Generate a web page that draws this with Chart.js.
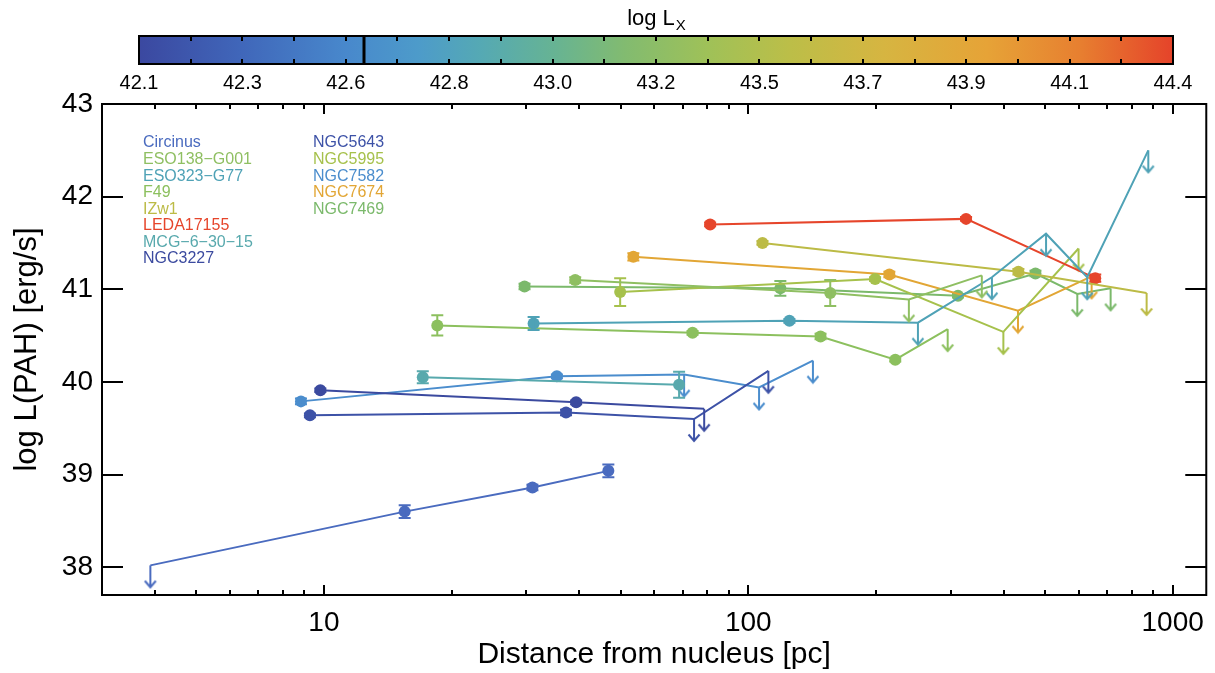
<!DOCTYPE html>
<html><head><meta charset="utf-8">
<script src="https://cdn.jsdelivr.net/npm/chart.js@4.4.1/dist/chart.umd.min.js"></script>
<style>
html,body{margin:0;padding:0;background:#fff;}
#wrap{position:relative;width:1215px;height:673px;overflow:hidden;}
#main{position:absolute;left:0;top:0;}
#cbar{position:absolute;left:0;top:0;}
</style></head><body>
<div id="wrap">
<canvas id="main" width="1215" height="673"></canvas>
<canvas id="cbar" width="1215" height="100"></canvas>
</div>
<script>
// ---------------- data ----------------
const galaxies = ['Circinus','ESO138\u2212G001','ESO323\u2212G77','F49','IZw1','LEDA17155','MCG\u22126\u221230\u221215','NGC3227',
                  'NGC5643','NGC5995','NGC7582','NGC7674','NGC7469'];
const distPc = [
  [3.9, 15.5, 31.0, 46.8],
  [39.1, 156, 239, 355],
  [31.2, 125, 251, 375, 503, 629, 876],
  [18.5, 73.9, 148, 222, 295],
  [108, 433, 868],
  [81.3, 326, 657],
  [17.1, 68.7],
  [9.81, 39.3, 78.7],
  [9.27, 37.2, 74.5, 111.5],
  [49.9, 199, 399, 600],
  [8.83, 35.4, 70.6, 106, 142],
  [53.6, 215, 432, 644],
  [29.7, 119, 312, 475, 596, 714]
];
const logLpah = [
  [38.02, 38.60, 38.86, 39.04],
  [41.10, 40.96, 40.89, 41.15],
  [40.63, 40.66, 40.64, 41.13, 41.60, 41.13, 42.50],
  [40.61, 40.53, 40.49, 40.24, 40.57],
  [41.50, 41.19, 40.96],
  [41.70, 41.76, 41.12],
  [40.05, 39.97],
  [39.91, 39.78, 39.71],
  [39.64, 39.67, 39.60, 40.12],
  [40.97, 41.11, 40.54, 41.44],
  [39.79, 40.06, 40.08, 39.94, 40.23],
  [41.35, 41.16, 40.77, 41.14],
  [41.03, 41.01, 40.93, 41.17, 40.95, 41.01]
];
const errLpah = [
  [0, 0.07, 0.03, 0.07],
  [0.03, 0.14, 0, 0],
  [0.07, 0.02, 0, 0, 0, 0, 0],
  [0.11, 0.02, 0.03, 0.02, 0],
  [0.02, 0.03, 0],
  [0.02, 0.02, 0.04],
  [0.065, 0.14],
  [0.02, 0.02, 0],
  [0.02, 0.03, 0, 0],
  [0.15, 0.02, 0, 0],
  [0.03, 0.02, 0, 0, 0],
  [0.04, 0.03, 0, 0],
  [0.03, 0.08, 0.02, 0.03, 0, 0]
];
const upperLimit = [
  [1,0,0,0],
  [0,0,1,1],
  [0,0,1,1,1,1,1],
  [0,0,0,0,1],
  [0,0,1],
  [0,0,0],
  [0,0],
  [0,0,1],
  [0,0,1,1],
  [0,0,1,1],
  [0,0,1,1,1],
  [0,0,1,1],
  [0,0,0,0,1,1]
];
const xTickLabels = [10, 100, 1000];
const yTickValues = [38, 39, 40, 41, 42, 43];
const cbTickLabels = ['42.1','42.3','42.6','42.8','43.0','43.2','43.5','43.7','43.9','44.1','44.4'];
const cbMin = 42.1, cbMax = 44.4, cbMarker = 42.6;

// ---------------- styles ----------------
const colors = ['#4a6bbf','#8fbf62','#4fa2b6','#8cc05e','#bcbb46','#e6452b','#58a9ad','#3b4a9f',
                '#3d52a7','#a6c14c','#4b8dcd','#e2a635','#7bb96b'];
const FONT = "'Liberation Sans', Arial, Helvetica, sans-serif";
const cbStops = [[0,'#3b48a0'],[0.1,'#4067ba'],[0.2,'#4888cc'],[0.27,'#4d9bca'],[0.33,'#55a9b4'],[0.4,'#66b394'],
                 [0.47,'#82bb70'],[0.55,'#9fc158'],[0.63,'#bcbe48'],[0.72,'#d6b541'],[0.82,'#e6a337'],[0.91,'#e77f30'],[1,'#e5432a']];

function makeArrow(color){
  const L = 22, c = document.createElement('canvas');
  c.width = 16; c.height = 2*L + 4;
  const g = c.getContext('2d');
  const cx = 8, cy = c.height/2;
  g.strokeStyle = color; g.lineWidth = 2;
  g.beginPath(); g.moveTo(cx, cy); g.lineTo(cx, cy+L); g.stroke();
  g.beginPath(); g.moveTo(cx-5.5, cy+L-6.5); g.lineTo(cx, cy+L); g.lineTo(cx+5.5, cy+L-6.5); g.stroke();
  return c;
}
const arrows = colors.map(makeArrow);

const datasets = galaxies.map((name, g) => ({
  label: name,
  data: distPc[g].map((d, i) => ({x: d, y: logLpah[g][i]})),
  borderColor: colors[g], backgroundColor: colors[g],
  borderWidth: 2, showLine: true, tension: 0,
  pointStyle: ctx => upperLimit[g][ctx.dataIndex] ? arrows[g] : 'circle',
  pointRadius: 6, pointHoverRadius: 6, pointBorderWidth: 0,
  errors: errLpah[g]
}));

const errorBarPlugin = {
  id: 'errbars',
  afterDatasetDraw(chart, args){
    const ds = chart.data.datasets[args.index];
    const y = chart.scales.y, ctx = chart.ctx;
    ctx.save(); ctx.strokeStyle = ds.borderColor; ctx.lineWidth = 2;
    args.meta.data.forEach((pt, i) => {
      const e = ds.errors[i];
      if (!e) return;
      const v = ds.data[i].y;
      const t = y.getPixelForValue(v + e), b = y.getPixelForValue(v - e), px = pt.x;
      ctx.beginPath();
      ctx.moveTo(px, t); ctx.lineTo(px, b);
      ctx.moveTo(px-6, t); ctx.lineTo(px+6, t);
      ctx.moveTo(px-6, b); ctx.lineTo(px+6, b);
      ctx.stroke();
    });
    ctx.restore();
  }
};

const framePlugin = {
  id: 'frame',
  afterDraw(chart){
    const {ctx, chartArea: a, scales: {x, y}} = chart;
    ctx.save(); ctx.strokeStyle = '#000'; ctx.lineWidth = 2;
    ctx.strokeRect(a.left, a.top, a.right - a.left, a.bottom - a.top);
    ctx.beginPath();
    const minor = [];
    [1, 10, 100, 1000].forEach(dec => { for (let m = 2; m <= 9; m++) { const v = m*dec; if (v > x.min && v < x.max) minor.push(v); } });
    minor.forEach(v => { const px = Math.round(x.getPixelForValue(v)); ctx.moveTo(px, a.bottom); ctx.lineTo(px, a.bottom-5); ctx.moveTo(px, a.top); ctx.lineTo(px, a.top+5); });
    xTickLabels.forEach(v => { const px = Math.round(x.getPixelForValue(v)); ctx.moveTo(px, a.bottom); ctx.lineTo(px, a.bottom-10); ctx.moveTo(px, a.top); ctx.lineTo(px, a.top+10); });
    yTickValues.forEach(v => { const py = Math.round(y.getPixelForValue(v)); ctx.moveTo(a.left, py); ctx.lineTo(a.left+21, py); ctx.moveTo(a.right, py); ctx.lineTo(a.right-21, py); });
    ctx.stroke();
    // legend
    ctx.font = '16px ' + FONT; ctx.textBaseline = 'middle'; ctx.textAlign = 'left';
    galaxies.forEach((name, g) => {
      const col = g < 8 ? 0 : 1, row = g < 8 ? g : g - 8;
      ctx.fillStyle = colors[g];
      ctx.fillText(name, col ? 313 : 143, 143 + row*16.55);
    });
    ctx.restore();
  }
};

new Chart(document.getElementById('main'), {
  type: 'scatter',
  data: {datasets},
  options: {
    responsive: false, animation: false, events: [],
    layout: {padding: {top: 104, right: 5, left: 0, bottom: 0}},
    plugins: {legend: {display: false}, tooltip: {enabled: false}},
    scales: {
      x: {
        type: 'logarithmic', min: 3, max: 1200,
        afterBuildTicks: s => { s.ticks = xTickLabels.map(v => ({value: v})); },
        afterFit: s => { s.height = 78; },
        grid: {display: false, drawTicks: false}, border: {display: false},
        ticks: {font: {family: FONT, size: 28}, color: '#000', padding: 11, autoSkip: false, maxRotation: 0, callback: v => String(v)},
        title: {display: true, text: 'Distance from nucleus [pc]', color: '#000', font: {family: FONT, size: 30}, padding: {top: 0, bottom: 0}}
      },
      y: {
        type: 'linear', min: 37.7, max: 43,
        afterBuildTicks: s => { s.ticks = yTickValues.map(v => ({value: v})); },
        afterFit: s => { s.width = 102; },
        grid: {display: false, drawTicks: false}, border: {display: false},
        ticks: {font: {family: FONT, size: 28}, color: '#000', padding: 9, callback: v => String(v)},
        title: {display: true, text: 'log L(PAH) [erg/s]', color: '#000', font: {family: FONT, size: 31}, padding: {top: 9, bottom: 0}}
      }
    }
  },
  plugins: [errorBarPlugin, framePlugin]
});

// ---------------- colour bar ----------------
const cbPlugin = {
  id: 'cbdeco',
  afterDraw(chart){
    const {ctx, chartArea: a, scales: {x}} = chart;
    ctx.save(); ctx.strokeStyle = '#000'; ctx.lineWidth = 2;
    ctx.strokeRect(a.left, a.top, a.right - a.left, a.bottom - a.top);
    ctx.beginPath();
    for (let i = 1; i < 2*(cbTickLabels.length-1); i++) {
      const px = Math.round(x.getPixelForValue(cbMin + i*(cbMax-cbMin)/(2*(cbTickLabels.length-1))));
      ctx.moveTo(px, a.top); ctx.lineTo(px, a.top+5);
      ctx.moveTo(px, a.bottom); ctx.lineTo(px, a.bottom-5);
    }
    ctx.stroke();
    ctx.lineWidth = 3;
    const mx = Math.round(x.getPixelForValue(cbMarker));
    ctx.beginPath(); ctx.moveTo(mx, a.top); ctx.lineTo(mx, a.bottom); ctx.stroke();
    // title "log L_X"
    ctx.fillStyle = '#000'; ctx.textBaseline = 'alphabetic';
    ctx.font = '22px ' + FONT;
    const t1 = 'log L', w1 = ctx.measureText(t1).width;
    ctx.font = '15px ' + FONT;
    const w2 = ctx.measureText('X').width;
    const cx = (a.left + a.right)/2, x0 = cx - (w1 + w2)/2;
    ctx.font = '22px ' + FONT; ctx.textAlign = 'left';
    ctx.fillText(t1, x0, 25);
    ctx.font = '15px ' + FONT;
    ctx.fillText('X', x0 + w1 + 1, 30);
    ctx.restore();
  }
};

new Chart(document.getElementById('cbar'), {
  type: 'bar',
  data: {labels: ['LX'], datasets: [{
    data: [[cbMin, cbMax]], borderWidth: 0, barPercentage: 1, categoryPercentage: 1,
    backgroundColor: ctx => {
      const a = ctx.chart.chartArea; if (!a) return '#888';
      const g = ctx.chart.ctx.createLinearGradient(a.left, 0, a.right, 0);
      cbStops.forEach(s => g.addColorStop(s[0], s[1]));
      return g;
    }
  }]},
  options: {
    indexAxis: 'y', responsive: false, animation: false, events: [],
    layout: {padding: {left: 139, right: 42, top: 36, bottom: 0}},
    plugins: {legend: {display: false}, tooltip: {enabled: false}},
    scales: {
      x: {
        type: 'linear', min: cbMin, max: cbMax,
        afterBuildTicks: s => { s.ticks = cbTickLabels.map((t, i) => ({value: cbMin + i*(cbMax-cbMin)/(cbTickLabels.length-1)})); },
        afterFit: s => { s.height = 36; },
        grid: {display: false, drawTicks: false}, border: {display: false},
        ticks: {font: {family: FONT, size: 20}, color: '#000', padding: 7, autoSkip: false, maxRotation: 0,
                callback: (v, i) => cbTickLabels[i]}
      },
      y: {display: false}
    }
  },
  plugins: [cbPlugin]
});
</script>
</body></html>
